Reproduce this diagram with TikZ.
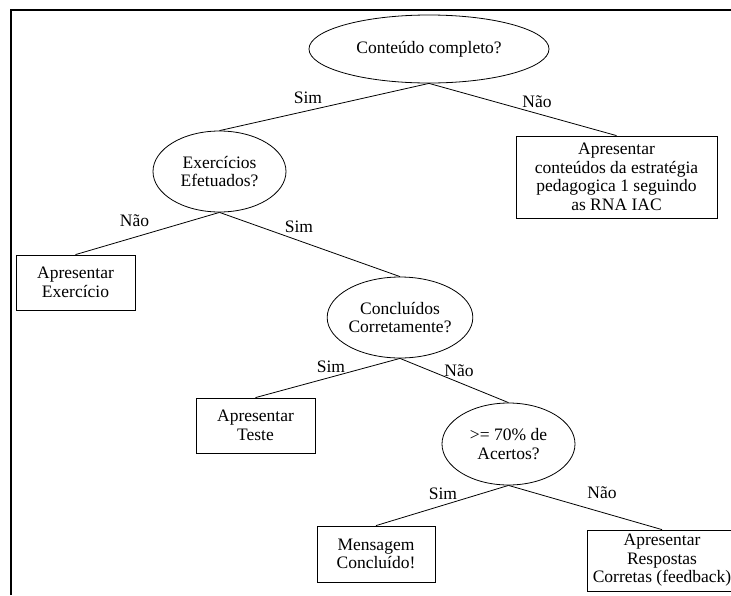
\documentclass[tikz,border=0pt]{standalone}
\usepackage{fontspec}
\setmainfont{Liberation Serif}
\usetikzlibrary{shapes.geometric}

\tikzset{
  treetext/.style={font=\fontsize{17.5}{18.5}\selectfont, align=center, inner sep=0pt},
  question/.style={treetext, draw, ellipse, line width=0.8pt},
  action/.style={treetext, draw, rectangle, line width=0.8pt},
  branch/.style={line width=0.8pt},
  answer/.style={font=\fontsize{17.5}{18.5}\selectfont, inner sep=0pt},
  frameline/.style={line width=2pt}
}

\begin{document}
\begin{tikzpicture}[x=1pt, y=-1pt]
  \useasboundingbox (0,0) rectangle (731,595);
  \clip (0,0) rectangle (731,595);

  % outer frame (top and left edges)
  \draw[frameline] (10.5,595) -- (10.5,10) -- (731,10);

  % decision nodes
  \node[question, minimum width=240pt, minimum height=68pt] (conteudo) at (429,49) {Conteúdo completo?};
  \node[question, minimum width=133pt, minimum height=81pt] (exercicios) at (219.5,171.5) {Exercícios\\Efetuados?};
  \node[question, minimum width=134pt, minimum height=81pt] (concluidos) at (400,317.5) {Concluídos\\Corretamente?};
  \node[question, minimum width=133pt, minimum height=82pt] (acertos) at (508.5,444) {>= 70\% de\\Acertos?};

  % action nodes
  \node[action, minimum width=201pt, minimum height=82pt] (estrategia) at (616.5,177)
    {Apresentar\\conteúdos da estratégia\\pedagogica 1 seguindo\\as RNA IAC};
  \node[action, minimum width=119pt, minimum height=55pt] (exercicio) at (75.5,282.5) {Apresentar\\Exercício};
  \node[action, minimum width=119pt, minimum height=55pt] (teste) at (255.5,425.5) {Apresentar\\Teste};
  \node[action, minimum width=118pt, minimum height=56pt] (mensagem) at (376,554) {Mensagem\\Concluído!};
  \node[action, minimum width=150pt, minimum height=61pt] (feedback) at (662,560.5)
    {Apresentar\\Respostas\\Corretas (feedback)};

  % branches
  \draw[branch] (conteudo.south) -- (exercicios.north);
  \draw[branch] (conteudo.south) -- (estrategia.north);
  \draw[branch] (exercicios.south) -- (exercicio.north);
  \draw[branch] (exercicios.south) -- (concluidos.north);
  \draw[branch] (concluidos.south) -- (teste.north);
  \draw[branch] (concluidos.south) -- (acertos.north);
  \draw[branch] (acertos.south) -- (mensagem.north);
  \draw[branch] (acertos.south) -- (feedback.north);

  % branch answers
  \node[answer] (a1) at (308,98) {Sim};
  \node[answer] (a2) at (537,102) {Não};
  \node[answer] (a3) at (134.5,221) {Não};
  \node[answer] (a4) at (299,227) {Sim};
  \node[answer] (a5) at (331,367) {Sim};
  \node[answer] (a6) at (459,371) {Não};
  \node[answer] (a7) at (443,494) {Sim};
  \node[answer] (a8) at (602,493) {Não};
\end{tikzpicture}
\end{document}
